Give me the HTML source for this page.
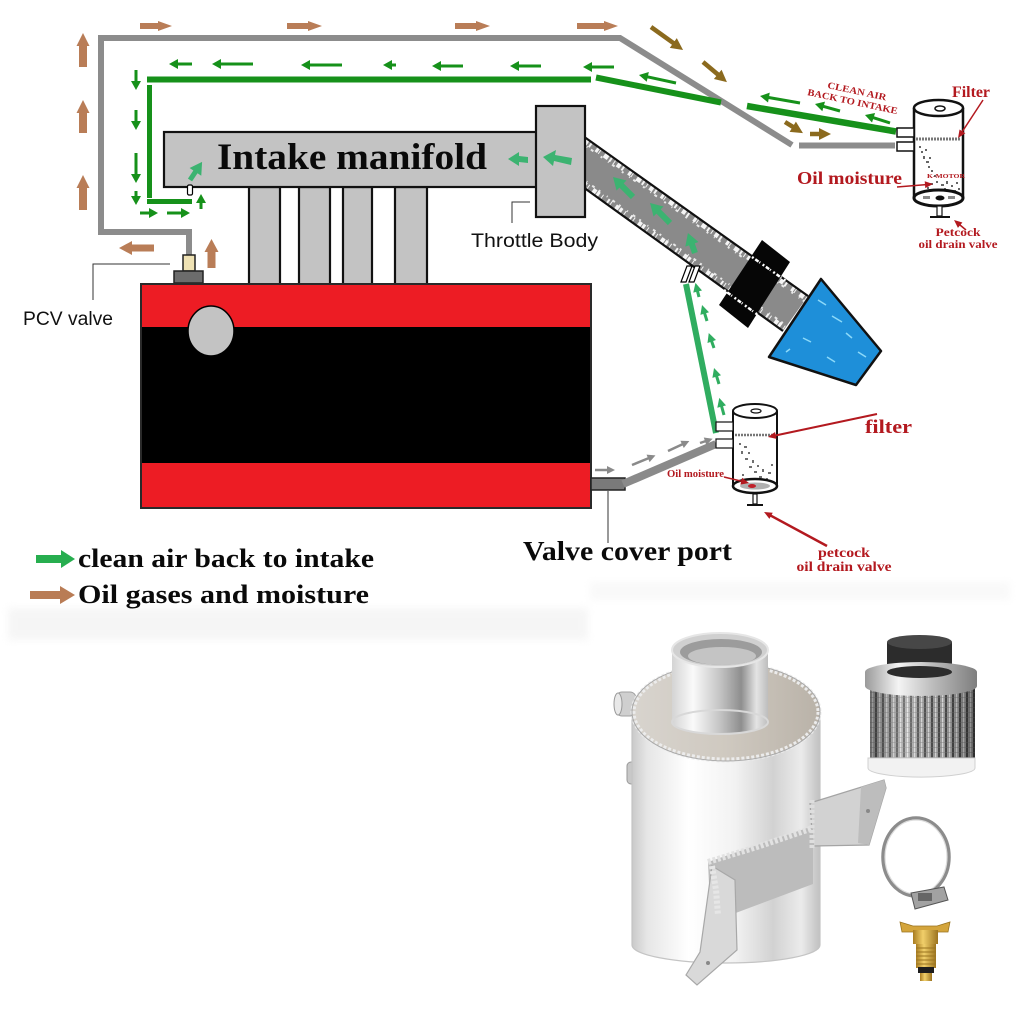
<!DOCTYPE html>
<html><head><meta charset="utf-8"><title>Oil catch can PCV diagram</title>
<style>html,body{margin:0;padding:0;background:#fff;overflow:hidden}svg{display:block}</style>
</head><body>
<svg xmlns="http://www.w3.org/2000/svg" width="1024" height="1024" viewBox="0 0 1024 1024">
<defs>
<marker id="hG" markerUnits="userSpaceOnUse" markerWidth="12" markerHeight="12" refX="1" refY="5" orient="auto" overflow="visible"><path d="M0,0 L9,5 L0,10 z" fill="#16911a"/></marker>
<marker id="hL" markerUnits="userSpaceOnUse" markerWidth="12" markerHeight="12" refX="1" refY="4.5" orient="auto" overflow="visible"><path d="M0,0 L9,4.5 L0,9 z" fill="#30ad60"/></marker>
<marker id="hB" markerUnits="userSpaceOnUse" markerWidth="14" markerHeight="14" refX="1" refY="6" orient="auto" overflow="visible"><path d="M0,0 L12,6 L0,12 z" fill="#8b6a1e"/></marker>
<marker id="hGr" markerUnits="userSpaceOnUse" markerWidth="10" markerHeight="10" refX="1" refY="4" orient="auto" overflow="visible"><path d="M0,0 L8,4 L0,8 z" fill="#8a8a8a"/></marker>
<marker id="hR" markerUnits="userSpaceOnUse" markerWidth="10" markerHeight="10" refX="1" refY="3.5" orient="auto" overflow="visible"><path d="M0,0 L8,3.5 L0,7 z" fill="#b3191f"/></marker>
<marker id="hLB" markerUnits="userSpaceOnUse" markerWidth="16" markerHeight="16" refX="1" refY="7" orient="auto" overflow="visible"><path d="M0,0 L12,7 L0,14 z" fill="#3cb371"/></marker>
<filter id="blur"><feGaussianBlur stdDeviation="4"/></filter>
<clipPath id="tubeClip"><polygon points="583,136 808,296 783,331 583,187"/></clipPath>
<linearGradient id="cyl" x1="0" x2="1" y1="0" y2="0">
 <stop offset="0" stop-color="#c9c9c9"/><stop offset="0.08" stop-color="#e6e6e6"/>
 <stop offset="0.3" stop-color="#ffffff"/><stop offset="0.55" stop-color="#f2f2f2"/>
 <stop offset="0.75" stop-color="#d2d2d2"/><stop offset="0.9" stop-color="#ebebeb"/>
 <stop offset="1" stop-color="#c0c0c0"/>
</linearGradient>
<linearGradient id="neck" x1="0" x2="1" y1="0" y2="0">
 <stop offset="0" stop-color="#d4d4d4"/><stop offset="0.22" stop-color="#fafafa"/>
 <stop offset="0.5" stop-color="#c4c4c4"/><stop offset="0.72" stop-color="#8e8e8e"/>
 <stop offset="0.88" stop-color="#e4e4e4"/><stop offset="1" stop-color="#bdbdbd"/>
</linearGradient>
<linearGradient id="lid" x1="0" x2="1" y1="0" y2="0">
 <stop offset="0" stop-color="#d8d4ce"/><stop offset="0.5" stop-color="#cfc9c0"/>
 <stop offset="1" stop-color="#b9b2a8"/>
</linearGradient>
<linearGradient id="chrome" x1="0" x2="1" y1="0" y2="0">
 <stop offset="0" stop-color="#9a9a9a"/><stop offset="0.3" stop-color="#f4f4f4"/>
 <stop offset="0.6" stop-color="#bdbdbd"/><stop offset="1" stop-color="#7e7e7e"/>
</linearGradient>
<linearGradient id="shade" x1="0" x2="1" y1="0" y2="0">
 <stop offset="0" stop-color="#000" stop-opacity="0.35"/><stop offset="0.35" stop-color="#fff" stop-opacity="0.25"/>
 <stop offset="0.7" stop-color="#000" stop-opacity="0.05"/><stop offset="1" stop-color="#000" stop-opacity="0.4"/>
</linearGradient>
<linearGradient id="brass" x1="0" x2="1" y1="0" y2="0">
 <stop offset="0" stop-color="#a97d22"/><stop offset="0.4" stop-color="#f1cf6a"/>
 <stop offset="1" stop-color="#9c7420"/>
</linearGradient>
<pattern id="mesh" width="7" height="5" patternUnits="userSpaceOnUse">
 <rect width="7" height="5" fill="#a4a4a4"/>
 <rect x="0" width="2" height="5" fill="#4b4b4b"/>
 <rect x="4" width="1.2" height="5" fill="#e0e0e0"/>
 <rect x="0" y="2" width="7" height="0.8" fill="#7a7a7a" opacity="0.5"/>
</pattern>
</defs>

<rect width="1024" height="1024" fill="#fff"/>

<!-- faint ghost smudges -->
<g filter="url(#blur)" opacity="0.4">
 <rect x="8" y="608" width="580" height="32" fill="#e8e8e8"/>
 <rect x="590" y="582" width="420" height="18" fill="#f0f0f0"/>
</g>

<!-- ===== gray PCV hose ===== -->
<path d="M189,256 V232 H101 V38 H620 L792,145" stroke="#8c8c8c" stroke-width="6" fill="none"/>
<path d="M799,145.5 H895" stroke="#8c8c8c" stroke-width="6" fill="none"/>

<!-- brown arrows (oil gases) -->
<g fill="#b97d57">
 <polygon points="140,23 158,23 158,21 172,26 158,31 158,29 140,29"/>
 <polygon points="287,23 308,23 308,21 322,26 308,31 308,29 287,29"/>
 <polygon points="455,23 476,23 476,21 490,26 476,31 476,29 455,29"/>
 <polygon points="577,23 604,23 604,21 618,26 604,31 604,29 577,29"/>
 <polygon points="79,67 79,46 76.5,46 83,33 89.5,46 87,46 87,67"/>
 <polygon points="79,133 79,113 76.5,113 83,100 89.5,113 87,113 87,133"/>
 <polygon points="79,210 79,188 76.5,188 83,175 89.5,188 87,188 87,210"/>
 <polygon points="154,244.5 132,244.5 132,241 119,248 132,255 132,251.5 154,251.5"/>
 <polygon points="207.5,268 207.5,252 204.5,252 211.5,239 218.5,252 215.5,252 215.5,268"/>
</g>
<g stroke="#8b6a1e" stroke-width="4.5" fill="none">
 <line x1="651" y1="27" x2="674.1" y2="43.6" marker-end="url(#hB)"/>
 <line x1="703" y1="62" x2="718.5" y2="75" marker-end="url(#hB)"/>
 <line x1="785" y1="122" x2="793.6" y2="127.3" marker-end="url(#hB)"/>
 <line x1="810" y1="134" x2="820" y2="134" marker-end="url(#hB)"/>
</g>

<!-- ===== green clean-air pipe ===== -->
<g stroke="#16911a" fill="none">
 <path d="M147,79.5 H591" stroke-width="6"/>
 <path d="M149.5,85 V198" stroke-width="5"/>
 <path d="M147,201.5 H192" stroke-width="5"/>
 <line x1="596" y1="77.5" x2="721" y2="102.5" stroke-width="6"/>
 <line x1="747" y1="106" x2="896" y2="131.5" stroke-width="6.5"/>
</g>
<g stroke="#16911a" stroke-width="3" fill="none">
 <line x1="192" y1="64" x2="177" y2="64" marker-end="url(#hG)"/>
 <line x1="253" y1="64" x2="220" y2="64" marker-end="url(#hG)"/>
 <line x1="342" y1="65" x2="309" y2="65" marker-end="url(#hG)"/>
 <line x1="396" y1="65" x2="391" y2="65" marker-end="url(#hG)"/>
 <line x1="463" y1="66" x2="440" y2="66" marker-end="url(#hG)"/>
 <line x1="541" y1="66" x2="518" y2="66" marker-end="url(#hG)"/>
 <line x1="614" y1="67" x2="591" y2="67" marker-end="url(#hG)"/>
 <line x1="676" y1="83" x2="646.8" y2="76.7" marker-end="url(#hG)"/>
 <line x1="800" y1="103" x2="767.9" y2="97.4" marker-end="url(#hG)"/>
 <line x1="840" y1="111" x2="822.7" y2="106.2" marker-end="url(#hG)"/>
 <line x1="890" y1="123" x2="872.6" y2="117.4" marker-end="url(#hG)"/>
 <line x1="136" y1="70" x2="136" y2="82" marker-end="url(#hG)"/>
 <line x1="136" y1="110" x2="136" y2="122" marker-end="url(#hG)"/>
 <line x1="136" y1="153" x2="136" y2="175" marker-end="url(#hG)"/>
 <line x1="136" y1="191" x2="136" y2="197" marker-end="url(#hG)"/>
 <line x1="140" y1="213" x2="150" y2="213" marker-end="url(#hG)"/>
 <line x1="167" y1="213" x2="182" y2="213" marker-end="url(#hG)"/>
 <line x1="201" y1="209" x2="201" y2="202" marker-end="url(#hG)"/>
</g>

<!-- ===== intake tube ===== -->
<polygon points="583,136 808,296 783,331 583,187" fill="#8a8a8a"/>
<g clip-path="url(#tubeClip)" fill="none" stroke="#fff">
 <line x1="581.3" y1="138.8" x2="806.3" y2="298.8" stroke-width="5" stroke-dasharray="1 3 4 2 2 6 3 1 1 5 5 2 2 3" opacity="0.9"/>
 <line x1="579.5" y1="141.5" x2="804.5" y2="301.5" stroke-width="2" stroke-dasharray="2 7 1 4 3 9" opacity="0.8"/>
 <line x1="584.7" y1="184.2" x2="784.7" y2="328.2" stroke-width="5" stroke-dasharray="2 2 1 5 4 1 3 3 1 6" opacity="0.9"/>
 <line x1="586.5" y1="181.6" x2="786.5" y2="325.6" stroke-width="2" stroke-dasharray="1 6 3 5 2 8" opacity="0.8"/>
</g>
<line x1="583" y1="136" x2="808" y2="296" stroke="#111" stroke-width="2.2"/>
<line x1="583" y1="187" x2="783" y2="331" stroke="#111" stroke-width="2.2"/>
<g stroke="#3cb371" stroke-width="6" fill="none">
 <line x1="633" y1="197" x2="620.8" y2="184.8" marker-end="url(#hLB)"/>
 <line x1="670" y1="223" x2="657.8" y2="210.8" marker-end="url(#hLB)"/>
 <line x1="695" y1="253" x2="691.6" y2="243.4" marker-end="url(#hLB)"/>
</g>
<!-- coupler -->
<polygon points="762,240 790,262 748,328 719,305" fill="#060606"/>
<g stroke="#fff" fill="none" stroke-width="2.5" stroke-dasharray="2 2 4 1 1 3">
 <line x1="752" y1="257" x2="786" y2="281"/>
 <line x1="724" y1="290" x2="758" y2="315"/>
</g>
<!-- cone filter -->
<polygon points="821,279 881,351 856,385 769,357" fill="#1e8fd9" stroke="#111" stroke-width="2.5" stroke-linejoin="round"/>
<g stroke="#9fe6ff" stroke-width="1.5" fill="none" opacity="0.85">
 <line x1="818" y1="300" x2="826" y2="305"/><line x1="832" y1="316" x2="842" y2="322"/>
 <line x1="846" y1="333" x2="852" y2="338"/><line x1="803" y1="338" x2="811" y2="342"/>
 <line x1="827" y1="357" x2="835" y2="362"/><line x1="786" y1="352" x2="790" y2="349"/>
 <line x1="858" y1="352" x2="866" y2="357"/>
</g>

<!-- ===== manifold / runners / throttle body ===== -->
<g fill="#c3c3c3" stroke="#111" stroke-width="2.2">
 <rect x="249" y="187" width="31" height="98"/>
 <rect x="299" y="187" width="31" height="98"/>
 <rect x="343" y="187" width="29" height="98"/>
 <rect x="395" y="187" width="32" height="98"/>
 <rect x="164" y="132" width="373" height="55"/>
 <rect x="536" y="106" width="49" height="111"/>
</g>
<text x="217" y="169" font-family="Liberation Serif, serif" font-weight="bold" font-size="37" fill="#0a0a0a" textLength="270" lengthAdjust="spacingAndGlyphs">Intake manifold</text>
<polygon points="508,159 519,152 519,156 528,157 528,163 519,162 519,166" fill="#3cb371"/>
<polygon points="543,157 556,150 555,155 572,158 571,165 554,161 553,166" fill="#3cb371"/>
<line x1="190" y1="180" x2="196" y2="171" stroke="#3cb371" stroke-width="5" marker-end="url(#hLB)"/>
<rect x="187.5" y="185" width="5" height="10" rx="1.5" fill="#fff" stroke="#000" stroke-width="1.2"/>

<!-- Throttle body label -->
<polyline points="530,202 512,202 512,223" fill="none" stroke="#333" stroke-width="1"/>
<text x="471" y="247" font-family="Liberation Sans, sans-serif" font-size="19" fill="#111" textLength="127" lengthAdjust="spacingAndGlyphs">Throttle Body</text>

<!-- ===== PCV valve ===== -->
<rect x="183" y="255" width="12" height="16" fill="#efe2b4" stroke="#222" stroke-width="1.5"/>
<rect x="174" y="271" width="29" height="12" fill="#6c6c6c" stroke="#222" stroke-width="1.5"/>
<polyline points="170,264 93,264 93,300" fill="none" stroke="#333" stroke-width="1"/>
<text x="23" y="325" font-family="Liberation Sans, sans-serif" font-size="19" fill="#111" textLength="90" lengthAdjust="spacingAndGlyphs">PCV valve</text>

<!-- ===== engine block ===== -->
<rect x="141" y="284" width="450" height="224" fill="#ed1c24" stroke="#2a2a2a" stroke-width="2"/>
<rect x="142" y="327" width="448" height="136" fill="#000"/>
<ellipse cx="211" cy="331" rx="23" ry="25" fill="#c3c3c3" stroke="#000" stroke-width="1.5"/>

<!-- valve cover port -->
<rect x="591" y="478" width="34" height="12" fill="#7a7a7a" stroke="#222" stroke-width="1.5"/>
<line x1="608" y1="491" x2="608" y2="543" stroke="#333" stroke-width="1"/>
<text x="523" y="560" font-family="Liberation Serif, serif" font-weight="bold" font-size="27" fill="#0a0a0a" textLength="209" lengthAdjust="spacingAndGlyphs">Valve cover port</text>

<!-- lower gray hose -->
<line x1="623" y1="484" x2="716" y2="444" stroke="#8a8a8a" stroke-width="8"/>
<g stroke="#8a8a8a" stroke-width="2.5" fill="none">
 <line x1="595" y1="470" x2="608" y2="470" marker-end="url(#hGr)"/>
 <line x1="632" y1="465" x2="649" y2="458" marker-end="url(#hGr)"/>
 <line x1="668" y1="451" x2="683" y2="444" marker-end="url(#hGr)"/>
 <line x1="700" y1="443" x2="706" y2="441" marker-end="url(#hGr)"/>
</g>

<!-- lower green hose -->
<line x1="686" y1="284" x2="716" y2="433" stroke="#30ad60" stroke-width="6"/>
<g stroke="#30ad60" stroke-width="3" fill="none">
 <line x1="699" y1="297" x2="697.4" y2="290.6" marker-end="url(#hL)"/>
 <line x1="707" y1="321" x2="704.4" y2="312.6" marker-end="url(#hL)"/>
 <line x1="714" y1="348" x2="711.4" y2="340.6" marker-end="url(#hL)"/>
 <line x1="719" y1="384" x2="716.4" y2="375.6" marker-end="url(#hL)"/>
 <line x1="724" y1="415" x2="721.4" y2="405.6" marker-end="url(#hL)"/>
</g>
<polygon points="681,282 687,266 692,266 686,282" fill="#fff" stroke="#000" stroke-width="1.2"/>
<polygon points="689,282 695,266 700,266 694,282" fill="#fff" stroke="#000" stroke-width="1.2"/>

<!-- ===== lower catch can ===== -->
<rect x="733" y="411" width="44" height="75" fill="#fff"/>
<line x1="733" y1="411" x2="733" y2="486" stroke="#111" stroke-width="2"/>
<line x1="777" y1="411" x2="777" y2="486" stroke="#111" stroke-width="2"/>
<ellipse cx="755" cy="411" rx="22" ry="7" fill="#fff" stroke="#111" stroke-width="2"/>
<ellipse cx="756" cy="411" rx="5" ry="2" fill="none" stroke="#111" stroke-width="1.2"/>
<rect x="716" y="422" width="17" height="9" fill="#fff" stroke="#111" stroke-width="1.2"/>
<rect x="716" y="439" width="17" height="9" fill="#fff" stroke="#111" stroke-width="1.2"/>
<line x1="735" y1="435" x2="775" y2="435" stroke="#777" stroke-width="2.5" stroke-dasharray="2 1"/>
<g fill="#707070">
 <rect x="739" y="443" width="2" height="2"/><rect x="744" y="446" width="3" height="2"/><rect x="741" y="451" width="2" height="3"/>
 <rect x="748" y="452" width="2" height="2"/><rect x="745" y="458" width="3" height="2"/><rect x="752" y="460" width="2" height="3"/>
 <rect x="749" y="466" width="3" height="2"/><rect x="757" y="465" width="2" height="2"/><rect x="754" y="471" width="3" height="2"/>
 <rect x="762" y="469" width="2" height="3"/><rect x="768" y="472" width="3" height="2"/><rect x="759" y="476" width="3" height="2"/>
 <rect x="766" y="478" width="2" height="2"/><rect x="742" y="474" width="2" height="2"/><rect x="771" y="464" width="2" height="2"/>
</g>
<ellipse cx="755" cy="486" rx="22" ry="7" fill="#fff" stroke="#111" stroke-width="2.5"/>
<ellipse cx="755" cy="486" rx="15" ry="3.5" fill="#b0b0b0"/>
<ellipse cx="752" cy="486" rx="4" ry="2" fill="#c0202a"/>
<rect x="753" y="494" width="4" height="10" fill="#fff" stroke="#111" stroke-width="1.2"/>
<line x1="747" y1="505" x2="763" y2="505" stroke="#111" stroke-width="2"/>

<!-- lower labels -->
<text x="865" y="433" font-family="Liberation Serif, serif" font-weight="bold" font-size="19" fill="#b3191f" textLength="47" lengthAdjust="spacingAndGlyphs">filter</text>
<line x1="877" y1="414" x2="774.8" y2="435.6" stroke="#b3191f" stroke-width="2" marker-end="url(#hR)"/>
<text x="667" y="477" font-family="Liberation Serif, serif" font-weight="bold" font-size="10" fill="#b3191f" textLength="57" lengthAdjust="spacingAndGlyphs">Oil moisture</text>
<line x1="724" y1="477" x2="742.2" y2="481.4" stroke="#b3191f" stroke-width="1.5" marker-end="url(#hR)"/>
<line x1="827" y1="546" x2="770.2" y2="515.3" stroke="#b3191f" stroke-width="2.5" marker-end="url(#hR)"/>
<text x="844" y="557" text-anchor="middle" font-family="Liberation Serif, serif" font-weight="bold" font-size="14" fill="#b3191f" textLength="52" lengthAdjust="spacingAndGlyphs">petcock</text>
<text x="844" y="571" text-anchor="middle" font-family="Liberation Serif, serif" font-weight="bold" font-size="14" fill="#b3191f" textLength="95" lengthAdjust="spacingAndGlyphs">oil drain valve</text>

<!-- ===== upper catch can ===== -->
<rect x="914" y="108" width="49" height="90" fill="#fff"/>
<line x1="914" y1="108" x2="914" y2="198" stroke="#111" stroke-width="2.5"/>
<line x1="963" y1="108" x2="963" y2="198" stroke="#111" stroke-width="2.5"/>
<ellipse cx="938.5" cy="108" rx="24.5" ry="8" fill="#fff" stroke="#111" stroke-width="2.5"/>
<ellipse cx="940" cy="108.5" rx="5" ry="2.5" fill="none" stroke="#111" stroke-width="1.5"/>
<rect x="897" y="128" width="17" height="9" fill="#fff" stroke="#111" stroke-width="1.5"/>
<rect x="897" y="142" width="17" height="9" fill="#fff" stroke="#111" stroke-width="1.5"/>
<line x1="916" y1="139" x2="961" y2="139" stroke="#777" stroke-width="3" stroke-dasharray="2 1"/>
<g fill="#666">
 <rect x="919" y="146" width="2" height="2"/><rect x="921" y="151" width="2" height="2"/><rect x="923" y="156" width="2" height="3"/>
 <rect x="926" y="161" width="3" height="2"/><rect x="928" y="166" width="2" height="2"/><rect x="931" y="170" width="2" height="2"/>
 <rect x="925" y="149" width="2" height="2"/><rect x="929" y="157" width="2" height="2"/><rect x="934" y="175" width="2" height="2"/>
 <rect x="930" y="183" width="3" height="2"/><rect x="936" y="181" width="2" height="2"/><rect x="941" y="184" width="3" height="2"/>
 <rect x="946" y="181" width="2" height="3"/><rect x="951" y="185" width="2" height="2"/><rect x="956" y="182" width="2" height="2"/>
 <rect x="944" y="188" width="2" height="2"/><rect x="938" y="189" width="2" height="2"/><rect x="953" y="190" width="3" height="2"/>
 <rect x="958" y="188" width="2" height="2"/><rect x="927" y="187" width="2" height="2"/>
</g>
<text x="927" y="178" font-family="Liberation Serif, serif" font-weight="bold" font-size="6.5" fill="#b3191f" textLength="38" lengthAdjust="spacingAndGlyphs">K-MOTOR</text>
<ellipse cx="938.5" cy="198" rx="24.5" ry="8" fill="#fff" stroke="#111" stroke-width="3"/>
<ellipse cx="940" cy="198" rx="4.5" ry="2.5" fill="#111"/>
<rect x="923" y="196" width="7" height="3" fill="#888"/><rect x="948" y="196" width="7" height="3" fill="#888"/>
<rect x="937" y="206" width="5" height="10" fill="#fff" stroke="#111" stroke-width="1.2"/>
<line x1="930" y1="217" x2="950" y2="217" stroke="#111" stroke-width="2"/>

<!-- upper labels -->
<text x="952" y="97" font-family="Liberation Serif, serif" font-weight="bold" font-size="16" fill="#b3191f" textLength="38" lengthAdjust="spacingAndGlyphs">Filter</text>
<line x1="983" y1="100" x2="961.9" y2="132.2" stroke="#b3191f" stroke-width="1.5" marker-end="url(#hR)"/>
<text x="797" y="184" font-family="Liberation Serif, serif" font-weight="bold" font-size="18" fill="#b3191f" textLength="105" lengthAdjust="spacingAndGlyphs">Oil moisture</text>
<line x1="897" y1="187" x2="926" y2="184.6" stroke="#b3191f" stroke-width="1.5" marker-end="url(#hR)"/>
<text x="958" y="236" text-anchor="middle" font-family="Liberation Serif, serif" font-weight="bold" font-size="12" fill="#b3191f" textLength="45" lengthAdjust="spacingAndGlyphs">Petcock</text>
<text x="958" y="248" text-anchor="middle" font-family="Liberation Serif, serif" font-weight="bold" font-size="12" fill="#b3191f" textLength="79" lengthAdjust="spacingAndGlyphs">oil drain valve</text>
<line x1="966" y1="230" x2="959.4" y2="224.5" stroke="#b3191f" stroke-width="1.5" marker-end="url(#hR)"/>
<text transform="translate(827,88) rotate(12)" font-family="Liberation Serif, serif" font-weight="bold" font-size="9.5" fill="#b3191f" textLength="60" lengthAdjust="spacingAndGlyphs">CLEAN AIR</text>
<text transform="translate(807,95) rotate(12)" font-family="Liberation Serif, serif" font-weight="bold" font-size="9.5" fill="#b3191f" textLength="92" lengthAdjust="spacingAndGlyphs">BACK TO INTAKE</text>

<!-- ===== legend ===== -->
<polygon points="36,555 61,555 61,550 75,559 61,568 61,563 36,563" fill="#27ae4f"/>
<text x="78" y="567" font-family="Liberation Serif, serif" font-weight="bold" font-size="26" fill="#0a0a0a" textLength="296" lengthAdjust="spacingAndGlyphs">clean air back to intake</text>
<polygon points="30,591 60,591 60,586 75,595 60,604 60,599 30,599" fill="#b97c55"/>
<text x="78" y="603" font-family="Liberation Serif, serif" font-weight="bold" font-size="26" fill="#0a0a0a" textLength="291" lengthAdjust="spacingAndGlyphs">Oil gases and moisture</text>

<!-- ===== product photo ===== -->
<rect x="616" y="692" width="20" height="24" rx="6" fill="#cfcfcf" stroke="#a0a0a0"/>
<ellipse cx="618" cy="704" rx="4" ry="11" fill="#e8e8e8" stroke="#999"/>
<rect x="627" y="762" width="12" height="22" rx="4" fill="#c8c8c8" stroke="#999"/>
<path d="M632,717 V945 A94,18 0 0 0 820,945 V717 Z" fill="url(#cyl)" stroke="#c4c4c4" stroke-width="1.2"/>
<ellipse cx="726" cy="712" rx="94" ry="49" fill="url(#lid)"/>
<ellipse cx="726" cy="712" rx="93" ry="48" fill="none" stroke="#ececec" stroke-width="5" stroke-dasharray="3 2"/>
<ellipse cx="726" cy="712" rx="94" ry="49" fill="none" stroke="#a8a8a8" stroke-width="1"/>
<path d="M672,650 V722 A48,12 0 0 0 768,722 V650 Z" fill="url(#neck)"/>
<ellipse cx="720" cy="722" rx="48" ry="12" fill="none" stroke="#d8d8d8" stroke-width="2"/>
<ellipse cx="720" cy="650" rx="48" ry="17" fill="#d0d0d0" stroke="#e6e6e6" stroke-width="2"/>
<ellipse cx="721" cy="652" rx="41" ry="13" fill="#9c9c9c"/>
<ellipse cx="722" cy="656" rx="34" ry="9" fill="#c4c4c4"/>
<polygon points="810,803 884,780 886,788 869,845 813,846" fill="#d2d2d2" stroke="#a4a4a4" stroke-width="1.2"/>
<polygon points="861,787 884,780 886,788 869,845 858,843" fill="#bdbdbd"/>
<circle cx="868" cy="811" r="2" fill="#888"/>
<polygon points="708,862 813,826 813,884 733,914 710,906" fill="#bcbcbc"/>
<polyline points="708,862 760,846 813,828" fill="none" stroke="#e2e2e2" stroke-width="6" stroke-dasharray="3 2"/>
<polyline points="812,800 812,850" fill="none" stroke="#dedede" stroke-width="5" stroke-dasharray="3 2"/>
<polygon points="712,866 735,880 737,950 697,985 686,975 700,952" fill="#d9d9d9" stroke="#a8a8a8" stroke-width="1.2"/>
<polyline points="712,866 716,890 718,915" fill="none" stroke="#e6e6e6" stroke-width="6" stroke-dasharray="3 2"/>
<circle cx="708" cy="963" r="2" fill="#888"/>

<rect x="887" y="642" width="65" height="36" fill="#2c2c2c"/>
<ellipse cx="919.5" cy="642" rx="32.5" ry="7" fill="#474747"/>
<rect x="870" y="685" width="105" height="76" fill="url(#mesh)"/>
<rect x="870" y="685" width="105" height="76" fill="url(#shade)"/>
<path d="M868,758 V768 A53,9 0 0 0 975,768 V758 Z" fill="#f2f2f2" stroke="#d0d0d0"/>
<path d="M865,672 V686 A56,10 0 0 0 977,686 V672 Z" fill="url(#chrome)"/>
<ellipse cx="921" cy="672" rx="56" ry="10" fill="url(#chrome)"/>
<ellipse cx="919.5" cy="672" rx="32.5" ry="6" fill="#2c2c2c"/>

<ellipse cx="916" cy="857" rx="33" ry="39" fill="none" stroke="#8c8c8c" stroke-width="3.5"/>
<ellipse cx="916" cy="857" rx="31" ry="37" fill="none" stroke="#dcdcdc" stroke-width="1.2"/>
<polygon points="911,893 944,887 948,900 915,909" fill="#a2a2a2" stroke="#555" stroke-width="1"/>
<rect x="918" y="893" width="14" height="8" fill="#666"/>

<polygon points="900,922 913,926 937,926 950,922 948,932 902,932" fill="#d4a53c" stroke="#9a7420" stroke-width="0.8"/>
<rect x="913" y="930" width="25" height="14" fill="url(#brass)"/>
<rect x="916" y="944" width="20" height="24" fill="url(#brass)"/>
<g stroke="#9a7420" stroke-width="1"><line x1="916" y1="948" x2="936" y2="948"/><line x1="916" y1="952" x2="936" y2="952"/><line x1="916" y1="956" x2="936" y2="956"/><line x1="916" y1="960" x2="936" y2="960"/><line x1="916" y1="964" x2="936" y2="964"/></g>
<rect x="918" y="967" width="16" height="6" fill="#1d1d1d"/>
<rect x="920" y="973" width="12" height="8" fill="url(#brass)"/>
</svg>
</body></html>
